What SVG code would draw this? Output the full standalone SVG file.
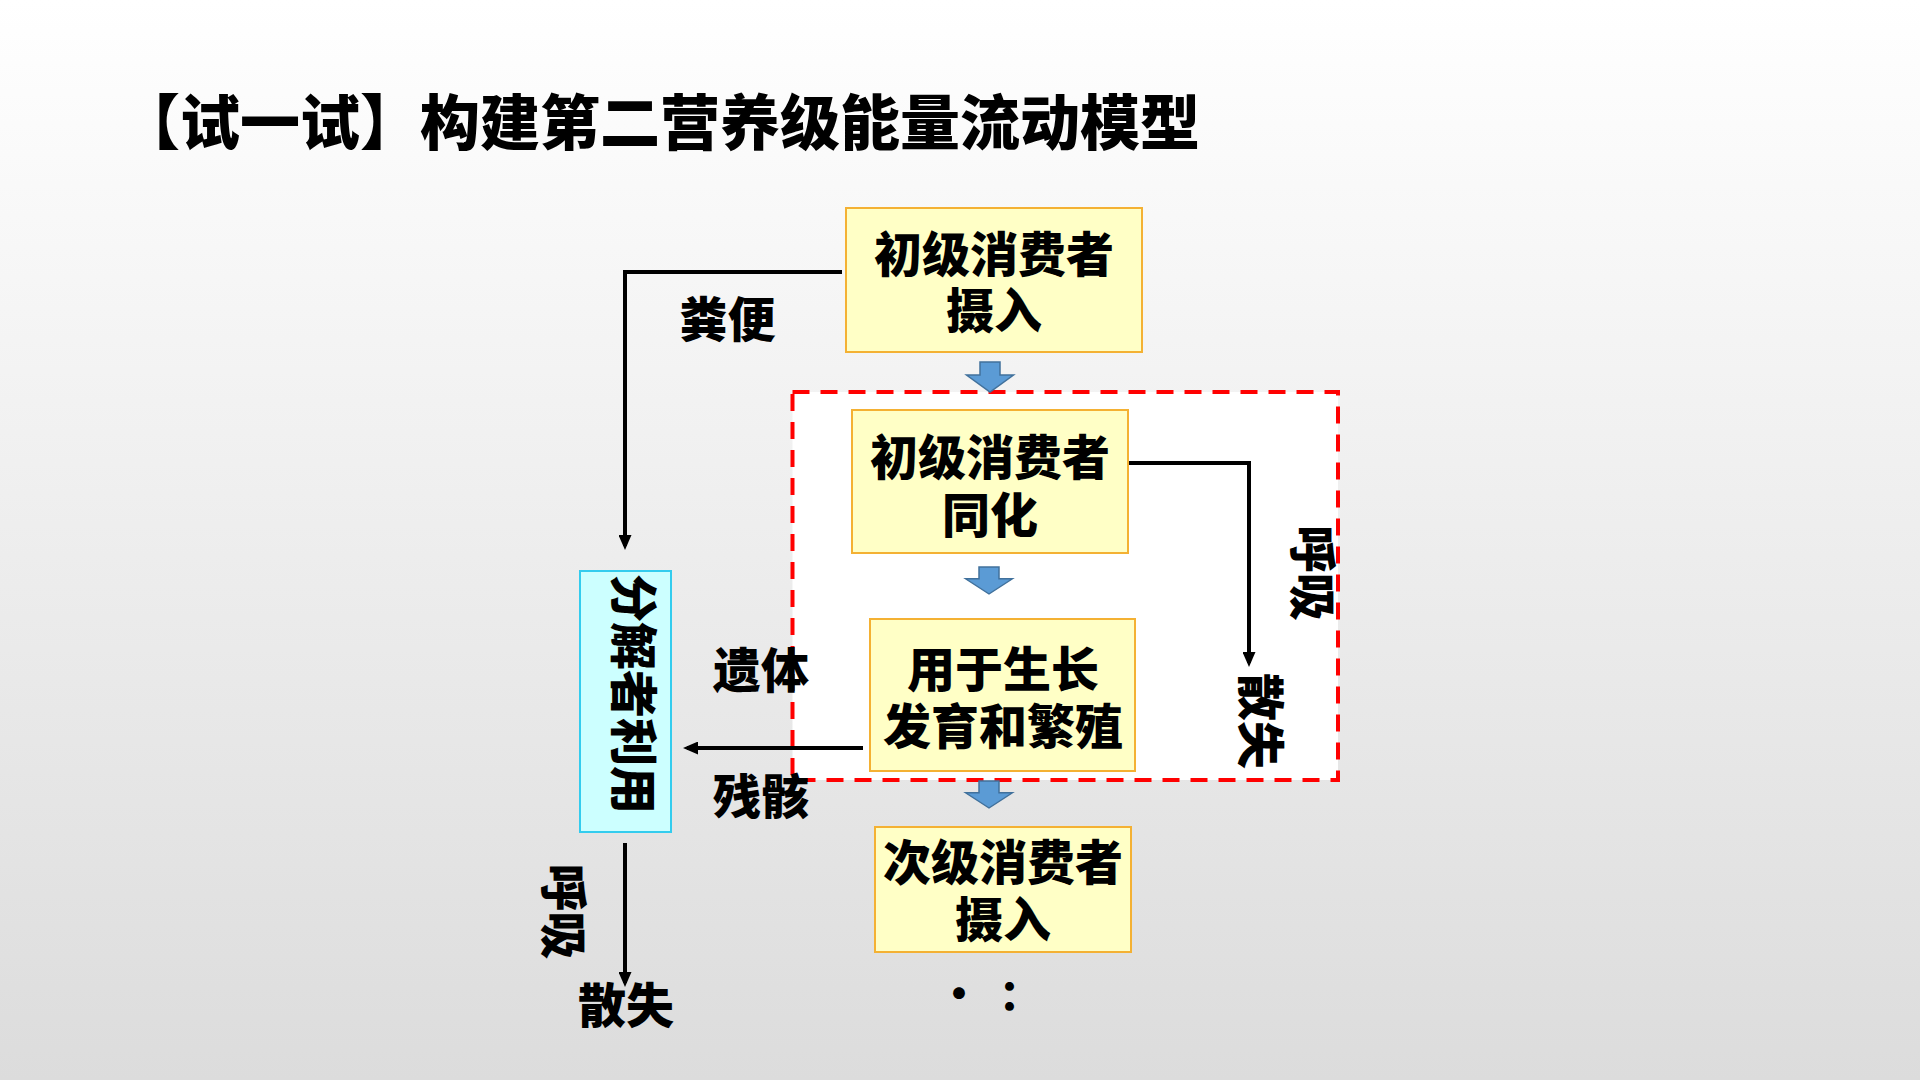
<svg xmlns="http://www.w3.org/2000/svg" width="1920" height="1080" viewBox="0 0 1920 1080">
  <defs>
    <linearGradient id="bg" x1="0" y1="0" x2="0" y2="1">
      <stop offset="0" stop-color="#ffffff"/>
      <stop offset="1" stop-color="#dcdcdc"/>
    </linearGradient>
    <marker id="ah" viewBox="0 0 15 13" markerWidth="15" markerHeight="13" refX="11" refY="6.5" orient="auto" markerUnits="userSpaceOnUse">
      <path d="M0,0 L15,6.5 L0,13 z" fill="#000"/>
    </marker>
    <path id="blueArrow" d="M-10,0 H10 V13 H23.5 L0,30 L-23.5,13 H-10 Z"/>
  </defs>
  <style>
    text { font-family: "Noto Sans CJK SC", "Noto Sans", sans-serif; font-weight: 900; fill: #000; }
    .lbl { font-size: 48px; text-anchor: middle; dominant-baseline: central; }
    .title { font-size: 60px; dominant-baseline: central; }
    .box { fill: #ffffc6; stroke: #f4b133; stroke-width: 2; }
    .dec { fill: #ccffff; stroke: #33ccee; stroke-width: 2; }
    .blue { fill: #5b9bd5; stroke: #41719c; stroke-width: 1.5; }
    .conn { fill: none; stroke: #000; stroke-width: 4; marker-end: url(#ah); }
  </style>

  <rect x="0" y="0" width="1920" height="1080" fill="url(#bg)"/>

  <text class="title" x="120" y="118">【试一试】构建第二营养级能量流动模型</text>

  <g id="system-boundary">
    <rect x="792.5" y="392" width="545.5" height="388" fill="#ffffff" stroke="#ff0000" stroke-width="4" stroke-dasharray="17 11"/>
  </g>

  <g id="connectors">
    <path class="conn" d="M842,272 H625 V546"/>
    <path class="conn" d="M1128,463 H1249 V663"/>
    <path class="conn" d="M863,748 H687"/>
    <path class="conn" d="M625,843 V983"/>
    <use href="#blueArrow" class="blue" transform="translate(990,362)"/>
    <use href="#blueArrow" class="blue" transform="translate(989,567) scale(1,0.9)"/>
    <use href="#blueArrow" class="blue" transform="translate(989,781) scale(1,0.9)"/>
  </g>

  <g id="node-intake">
    <rect class="box" x="846" y="208" width="296" height="144"/>
    <text class="lbl"><tspan x="994" y="250.5">初级消费者</tspan><tspan x="994" y="306.5">摄入</tspan></text>
  </g>

  <g id="node-assimilation">
    <rect class="box" x="852" y="410" width="276" height="143"/>
    <text class="lbl"><tspan x="990" y="453.5">初级消费者</tspan><tspan x="990" y="512">同化</tspan></text>
  </g>

  <g id="node-growth">
    <rect class="box" x="870" y="619" width="265" height="152"/>
    <text class="lbl"><tspan x="1003" y="666">用于生长</tspan><tspan x="1003" y="723">发育和繁殖</tspan></text>
  </g>

  <g id="node-secondary">
    <rect class="box" x="875" y="827" width="256" height="125"/>
    <text class="lbl"><tspan x="1003" y="858.5">次级消费者</tspan><tspan x="1003" y="916">摄入</tspan></text>
  </g>

  <g id="node-decomposer">
    <rect class="dec" x="580" y="571" width="91" height="261"/>
    <text class="lbl" transform="translate(637,694) rotate(90)">分解者利用</text>
  </g>

  <g id="labels">
    <text class="lbl" x="727.5" y="316">粪便</text>
    <text class="lbl" x="761" y="666.5">遗体</text>
    <text class="lbl" x="761" y="792.5">残骸</text>
    <text class="lbl" transform="translate(1315.5,573) rotate(90)">呼吸</text>
    <text class="lbl" transform="translate(1263.5,721) rotate(90)">散失</text>
    <text class="lbl" transform="translate(567,911.5) rotate(90)">呼吸</text>
    <text class="lbl" x="626" y="1001.5">散失</text>
    <text class="lbl" style="font-size:42px"><tspan x="959" y="990">·</tspan><tspan x="1020" y="991">：</tspan></text>
  </g>
</svg>
